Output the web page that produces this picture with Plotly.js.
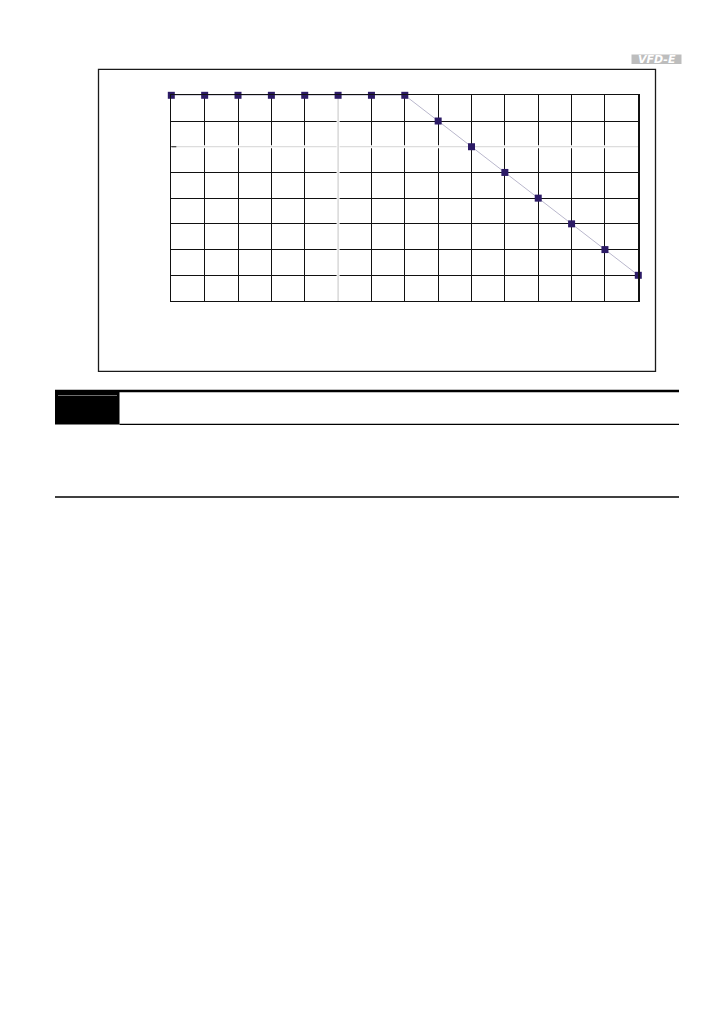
<!DOCTYPE html>
<html>
<head>
<meta charset="utf-8">
<script src="https://cdn.plot.ly/plotly-3.0.1.min.js"></script>
<style>
html,body{margin:0;padding:0;background:#fff;}
#chart{width:726px;height:1032px;}
</style>
</head>
<body>
<div id="chart"></div>
<script>
// Data
const steps = [0,1,2,3,4,5,6,7,8,9,10,11,12,13,14];
const levels = [8,8,8,8,8,8,8,8,7,6,5,4,3,2,1];
const xTickVals = [0,1,2,3,4,5,6,7,8,9,10,11,12,13,14];
const yTickVals = [0,1,2,3,4,5,6,7,8];

const W = 726, H = 1032;
const px = v => v / W;
const py = v => 1 - v / H;

const trace = {
  x: steps,
  y: levels,
  type: 'scatter',
  mode: 'lines+markers',
  line: {color: '#b9b7cc', width: 1},
  marker: {symbol: 'square', size: 7, color: '#2c1b66', line: {width: 0}},
  cliponaxis: false,
  hoverinfo: 'skip'
};

const shapes = [
  // outer chart frame
  {type:'rect', xref:'paper', yref:'paper', x0:px(98.5), x1:px(655.5), y0:py(371.3), y1:py(69.3),
   line:{color:'#1a1a1a', width:1.3}, fillcolor:'rgba(0,0,0,0)'},
  // faint grey grid lines replacing black ones
  {type:'line', xref:'x', yref:'y', x0:0, x1:14, y0:6, y1:6, layer:'between',
   line:{color:'#ffffff', width:3}},
  {type:'line', xref:'x', yref:'y', x0:0, x1:14, y0:6, y1:6, layer:'between',
   line:{color:'#d4d4d4', width:1}},
  {type:'line', xref:'x', yref:'y', x0:5, x1:5, y0:0, y1:8, layer:'between',
   line:{color:'#ffffff', width:3}},
  {type:'line', xref:'x', yref:'y', x0:5, x1:5, y0:0, y1:8, layer:'between',
   line:{color:'#c4c4c4', width:1}},
  {type:'line', xref:'x', yref:'y', x0:0, x1:0.15, y0:6, y1:6, layer:'between',
   line:{color:'#1a1a1a', width:1.2}},
  // header bar
  {type:'line', xref:'paper', yref:'paper', x0:px(55), x1:px(679), y0:py(391), y1:py(391),
   line:{color:'#000', width:2.5}},
  {type:'rect', xref:'paper', yref:'paper', x0:px(55), x1:px(119.5), y0:py(424.5), y1:py(391),
   line:{width:0}, fillcolor:'#000'},
  {type:'line', xref:'paper', yref:'paper', x0:px(58), x1:px(117), y0:py(395.5), y1:py(395.5),
   line:{color:'#6e6e6e', width:1}},
  {type:'line', xref:'paper', yref:'paper', x0:px(119.5), x1:px(679), y0:py(424.3), y1:py(424.3),
   line:{color:'#000', width:1.3}},
  {type:'line', xref:'paper', yref:'paper', x0:px(55), x1:px(679), y0:py(497), y1:py(497),
   line:{color:'#000', width:1.3}},
  // logo box
  {type:'rect', xref:'paper', yref:'paper', x0:px(631.5), x1:px(681.5), y0:py(64), y1:py(54.5),
   line:{width:0}, fillcolor:'#bdbdbd'}
];

const annotations = [
  {xref:'paper', yref:'paper', x:px(656.5), y:py(59.3), xanchor:'center', yanchor:'middle',
   text:'<b><i>VFD-E</i></b>', showarrow:false,
   font:{family:'DejaVu Sans, Arial, sans-serif', size:11, color:'#ffffff'}}
];

const layout = {
  width: W, height: H,
  margin: {l:0, r:0, t:0, b:0},
  paper_bgcolor: '#ffffff',
  plot_bgcolor: '#ffffff',
  showlegend: false,
  xaxis: {
    domain: [px(171.3), px(638.3)],
    range: [0, 14],
    tickvals: xTickVals,
    showticklabels: false,
    ticks: '',
    showgrid: true, gridcolor: '#111111', gridwidth: 1,
    zeroline: false,
    showline: true, linecolor: '#111111', linewidth: 1.2, mirror: true,
    fixedrange: true
  },
  yaxis: {
    domain: [py(301), py(95.3)],
    range: [0, 8],
    tickvals: yTickVals,
    showticklabels: false,
    ticks: '',
    showgrid: true, gridcolor: '#111111', gridwidth: 1,
    zeroline: false,
    showline: true, linecolor: '#111111', linewidth: 1.2, mirror: true,
    fixedrange: true
  },
  shapes: shapes,
  annotations: annotations
};

Plotly.newPlot('chart', [trace], layout, {staticPlot: true, displayModeBar: false});
</script>
</body>
</html>
